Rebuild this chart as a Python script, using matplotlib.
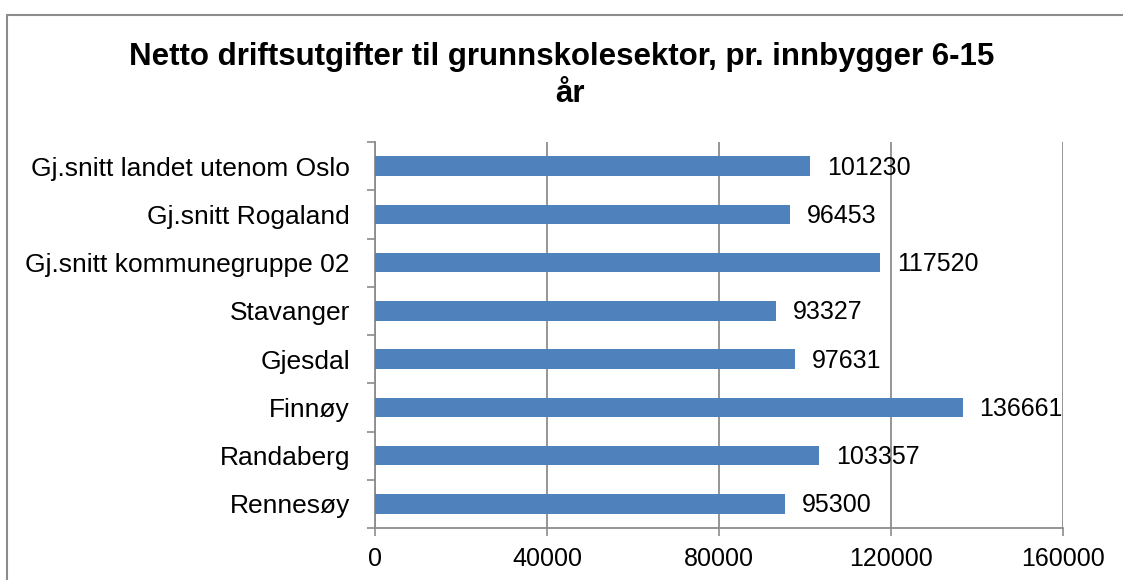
import matplotlib
matplotlib.use("Agg")
import matplotlib.pyplot as plt
from matplotlib.patches import Rectangle
from matplotlib.ticker import FixedLocator
import numpy as np

categories = ["Gj.snitt landet utenom Oslo", "Gj.snitt Rogaland", "Gj.snitt kommunegruppe 02",
              "Stavanger", "Gjesdal", "Finnøy", "Randaberg", "Rennesøy"]
values = [101230, 96453, 117520, 93327, 97631, 136661, 103357, 95300]
xticks = [0, 40000, 80000, 120000, 160000]
title_line1 = "Netto driftsutgifter til grunnskolesektor, pr. innbygger 6-15"
title_line2 = "år"

plt.rcParams['font.family'] = ['Liberation Sans', 'DejaVu Sans']
W, H = 1123, 580
fig = plt.figure(figsize=(W/100, H/100), dpi=100)
fig.patch.set_facecolor('white')

# outer border
fig.add_artist(Rectangle((7/W, -0.1), 1.2, 1 - 15/H + 0.1, transform=fig.transFigure,
                         fill=False, edgecolor='#8c8c8c', linewidth=1.5))

ax = fig.add_axes([375/W, 1 - 528/H, (1063-375)/W, (528-142)/H])
n = len(categories)
ypos = np.arange(n)[::-1]
ax.barh(ypos, values, height=0.4, color='#4F81BD', zorder=3)
for y, v in zip(ypos, values):
    ax.annotate(str(v), (v, y), xytext=(12, -1), textcoords='offset points',
                va='center', ha='left', fontsize=18, color='black', zorder=4)

ax.set_xlim(0, 160000)
ax.set_ylim(-0.5, n - 0.5)
ax.set_xticks(xticks)
ax.set_xticklabels([str(t) for t in xticks], fontsize=18)
ax.set_yticks(ypos)
ax.set_yticklabels(categories, fontsize=19)
ax.yaxis.set_minor_locator(FixedLocator(np.arange(-0.5, n, 1.0)))
ax.tick_params(axis='y', which='major', length=0, pad=18)
ax.tick_params(axis='y', which='minor', length=5.5, width=1.2, color='#8c8c8c', direction='out')
ax.tick_params(axis='x', which='major', length=5.5, width=1.2, color='#8c8c8c', pad=8)
ax.grid(axis='x', color='#8c8c8c', linewidth=1.3, zorder=0)
for s in ['top', 'right']:
    ax.spines[s].set_visible(False)
for s in ['left', 'bottom']:
    ax.spines[s].set_color('#8c8c8c')
    ax.spines[s].set_linewidth(1.3)

fig.text(0.5, 1 - 65/H, title_line1, ha='center', va='baseline', fontsize=22.5,
         fontweight='bold')
fig.text(570/W, 1 - 102/H, title_line2, ha='center', va='baseline', fontsize=22.5,
         fontweight='bold')

fig.savefig('out.png', dpi=100)
